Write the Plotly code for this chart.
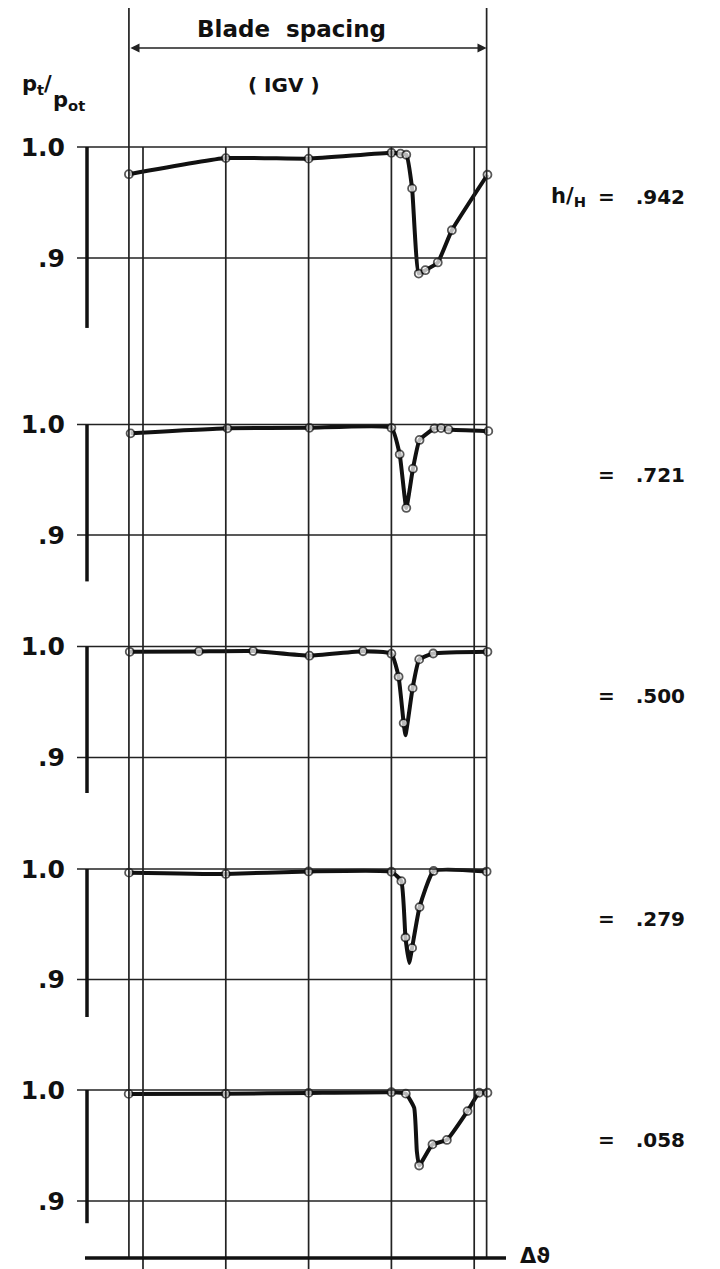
import plotly.graph_objects as go

# ---------------- data ----------------
# x in grid-spacing units (vertical grid lines at 0..4), y = p_t/p_ot
heights = [".942", ".721", ".500", ".279", ".058"]

dtheta_942 = [-0.17, 1.0, 2.0, 3.0, 3.11, 3.18, 3.25, 3.33, 3.41, 3.56, 3.73, 4.16]
pt_942 = [0.9755, 0.990, 0.9895, 0.9948, 0.994, 0.993, 0.9627, 0.886, 0.889, 0.896, 0.925, 0.975]
meas_942 = [1, 1, 1, 1, 1, 1, 1, 1, 1, 1, 1, 1]

dtheta_721 = [-0.15, 1.02, 2.01, 3.0, 3.1, 3.18, 3.26, 3.34, 3.52, 3.6, 3.69, 4.17]
pt_721 = [0.992, 0.9965, 0.997, 0.997, 0.973, 0.9245, 0.960, 0.986, 0.9964, 0.9968, 0.9955, 0.994]
meas_721 = [1, 1, 1, 1, 1, 1, 1, 1, 1, 1, 1, 1]

dtheta_500 = [-0.16, 0.675, 1.33, 2.01, 2.657, 3.0, 3.087, 3.148, 3.17, 3.256, 3.336, 3.505, 4.16]
pt_500 = [0.9952, 0.9956, 0.9959, 0.9917, 0.9957, 0.9935, 0.9727, 0.931, 0.920, 0.9625, 0.9884, 0.9937, 0.9952]
meas_500 = [1, 1, 1, 1, 1, 1, 1, 1, 0, 1, 1, 1, 1]

dtheta_279 = [-0.168, 1.0, 2.0, 3.0, 3.12, 3.17, 3.215, 3.25, 3.34, 3.51, 4.15]
pt_279 = [0.9967, 0.9955, 0.9978, 0.9975, 0.989, 0.938, 0.915, 0.9286, 0.9655, 0.9982, 0.9977]
meas_279 = [1, 1, 1, 1, 1, 1, 0, 1, 1, 1, 1]

dtheta_058 = [-0.173, 1.0, 2.0, 3.0, 3.174, 3.275, 3.307, 3.335, 3.496, 3.67, 3.92, 4.06, 4.16]
pt_058 = [0.9965, 0.9966, 0.9974, 0.998, 0.9967, 0.984, 0.945, 0.932, 0.951, 0.955, 0.981, 0.9975, 0.9975]
meas_058 = [1, 1, 1, 1, 1, 0, 0, 1, 1, 1, 1, 1, 1]

series = [
    (dtheta_942, pt_942, meas_942),
    (dtheta_721, pt_721, meas_721),
    (dtheta_500, pt_500, meas_500),
    (dtheta_279, pt_279, meas_279),
    (dtheta_058, pt_058, meas_058),
]

grid_x = [0, 1, 2, 3, 4]
blade_x = [-0.17, 4.15]
ytick_vals = [0.9, 1.0]
ytick_text = [".9", "1.0"]
bar_bottom = [0.837, 0.858, 0.868, 0.866, 0.880]

# ---------------- layout geometry (page pixels) ----------------
W, H = 720, 1269
OFF = 8  # page body margin offset
X0_PX, UNIT_PX = 143.0, 82.8
y10_px = [147, 424.5, 646.5, 869, 1090]
y09_px = [258, 535, 757.5, 979.5, 1201]

FONT = "DejaVu Sans, Liberation Sans, Arial, sans-serif"
BLACK = "#111"


def px_to_x(px):
    return (px - X0_PX) / UNIT_PX


def pxx(px):  # page x pixel -> paper
    return (px - OFF) / W


def pyy(px):  # page y pixel -> paper
    return 1 - (px - OFF) / H


fig = go.Figure()
layout_axes = {}
shapes = []
annotations = []

for i, (xs, ys, ms) in enumerate(series):
    ax_name = "yaxis" if i == 0 else f"yaxis{i+1}"
    yref = "y" if i == 0 else f"y{i+1}"
    ppu = (y09_px[i] - y10_px[i]) / 0.1
    top_px = y10_px[i] - 30
    bot_px = min(y09_px[i] + 75, H + OFF)
    rng = [0.9 - (bot_px - y09_px[i]) / ppu, 1.0 + (y10_px[i] - top_px) / ppu]
    dom = [pyy(bot_px), pyy(top_px)]
    layout_axes[ax_name] = dict(
        domain=dom, range=rng, anchor="free", position=pxx(74),
        tickvals=ytick_vals, ticktext=ytick_text, ticks="",
        showgrid=False, zeroline=False, showline=False,
        ticklabelstandoff=9,
        tickfont=dict(family=FONT, size=25, color=BLACK, weight="bold"),
    )
    # horizontal reference lines at 1.0 and .9
    for yv in ytick_vals:
        shapes.append(dict(type="line", xref="x", yref=yref,
                           x0=px_to_x(77), x1=blade_x[1], y0=yv, y1=yv,
                           line=dict(color="#222", width=1.7)))
    # thick left bar
    shapes.append(dict(type="line", xref="x", yref=yref,
                       x0=px_to_x(87), x1=px_to_x(87), y0=1.0, y1=bar_bottom[i],
                       line=dict(color=BLACK, width=3.5)))
    sizes = [8 if m else 0 for m in ms]
    fig.add_trace(go.Scatter(
        x=xs, y=ys, xaxis="x", yaxis=yref, mode="lines+markers",
        line=dict(color=BLACK, width=4, shape="spline", smoothing=0.4),
        marker=dict(size=sizes, color="white", line=dict(color=BLACK, width=1.8)),
        showlegend=False, hoverinfo="x+y",
    ))
    # right-hand labels
    lab_y = pyy(y10_px[i] + 50)
    annotations.append(dict(xref="paper", yref="paper", x=pxx(596), y=lab_y,
                            xanchor="left", yanchor="middle", showarrow=False,
                            text="=&nbsp;&nbsp;&nbsp;" + heights[i],
                            font=dict(family=FONT, size=20, color=BLACK, weight="bold")))
    if i == 0:
        annotations.append(dict(xref="paper", yref="paper", x=pxx(588), y=lab_y,
                                xanchor="right", yanchor="middle", showarrow=False,
                                text="h/<sub>H</sub>",
                                font=dict(family=FONT, size=21, color=BLACK, weight="bold")))

# vertical grid lines (through all panels)
for gx in grid_x:
    shapes.append(dict(type="line", xref="x", yref="paper", x0=gx, x1=gx,
                       y0=pyy(147), y1=0, line=dict(color="#222", width=1.7)))
# blade spacing lines
for bx in blade_x:
    shapes.append(dict(type="line", xref="x", yref="paper", x0=bx, x1=bx,
                       y0=pyy(8), y1=pyy(1258), line=dict(color="#222", width=1.7)))
# bottom axis line
shapes.append(dict(type="line", xref="x", yref="paper", x0=px_to_x(85), x1=px_to_x(506),
                   y0=pyy(1258), y1=pyy(1258), line=dict(color=BLACK, width=3.5)))

# double arrow for blade spacing
annotations.append(dict(xref="x", yref="paper", x=blade_x[1], y=pyy(48),
                        ax=-(blade_x[1] - blade_x[0]) * UNIT_PX, ay=0,
                        axref="pixel", ayref="pixel", text="", showarrow=True,
                        arrowhead=2, arrowside="end+start", arrowsize=1.3,
                        arrowwidth=1.4, arrowcolor="#222", standoff=0, startstandoff=0))
annotations.append(dict(xref="paper", yref="paper", x=pxx(291), y=pyy(29),
                        text="Blade&nbsp;&nbsp;spacing", showarrow=False,
                        xanchor="center", yanchor="middle",
                        font=dict(family=FONT, size=23, color=BLACK, weight="bold")))
annotations.append(dict(xref="paper", yref="paper", x=pxx(284), y=pyy(85),
                        text="( IGV )", showarrow=False,
                        xanchor="center", yanchor="middle",
                        font=dict(family=FONT, size=20, color=BLACK, weight="bold")))
# p_t / p_ot as a slanted fraction
annotations.append(dict(xref="paper", yref="paper", x=pxx(20), y=pyy(85),
                        text="p<sub>t</sub>/", showarrow=False,
                        xanchor="left", yanchor="middle",
                        font=dict(family=FONT, size=21, color=BLACK, weight="bold")))
annotations.append(dict(xref="paper", yref="paper", x=pxx(51), y=pyy(101),
                        text="p<sub>ot</sub>", showarrow=False,
                        xanchor="left", yanchor="middle",
                        font=dict(family=FONT, size=21, color=BLACK, weight="bold")))
annotations.append(dict(xref="paper", yref="paper", x=pxx(518), y=pyy(1256),
                        text="Δϑ", showarrow=False, xanchor="left", yanchor="middle",
                        font=dict(family=FONT, size=21, color=BLACK, weight="bold")))

fig.update_layout(
    width=W, height=H, margin=dict(l=0, r=0, t=0, b=0),
    paper_bgcolor="white", plot_bgcolor="rgba(0,0,0,0)",
    xaxis=dict(domain=[0, 1], range=[px_to_x(OFF), px_to_x(W + OFF)], visible=False, anchor="y"),
    shapes=shapes, annotations=annotations, showlegend=False,
    **layout_axes,
)

fig.write_html("out.html")
